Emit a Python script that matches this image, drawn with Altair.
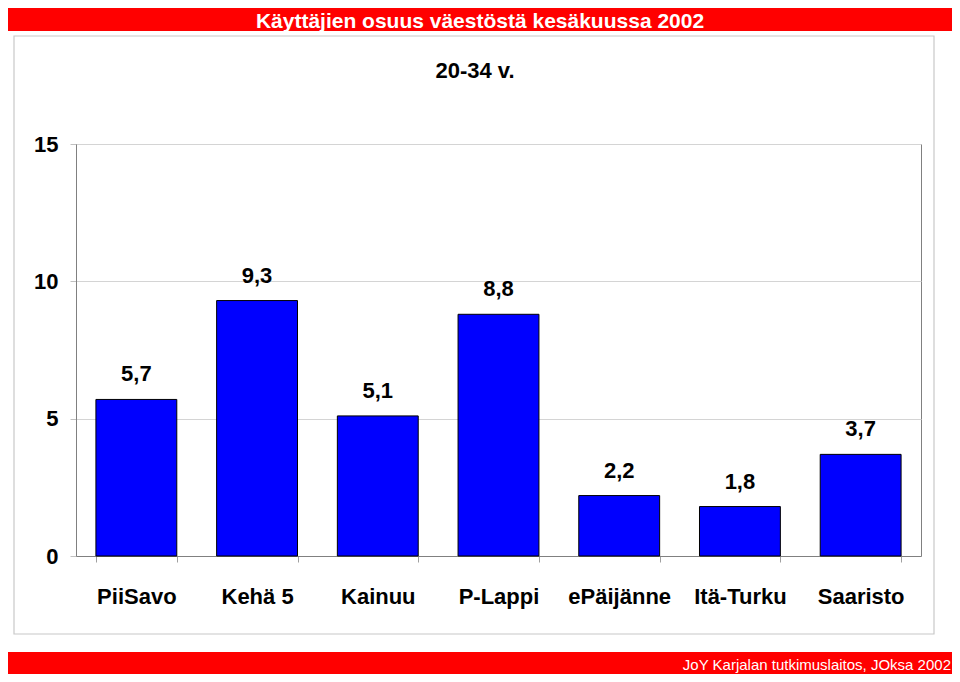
import altair as alt
import pandas as pd

categories = ["PiiSavo", "Kehä 5", "Kainuu", "P-Lappi", "ePäijänne", "Itä-Turku", "Saaristo"]
values = [5.7, 9.3, 5.1, 8.8, 2.2, 1.8, 3.7]
value_labels = ["5,7", "9,3", "5,1", "8,8", "2,2", "1,8", "3,7"]
y_ticks = [0, 5, 10, 15]
title_text = "Käyttäjien osuus väestöstä kesäkuussa 2002"
subtitle_text = "20-34 v."
footer_text = "JoY Karjalan tutkimuslaitos, JOksa 2002"

df = pd.DataFrame({"cat": categories, "val": values, "lab": value_labels})
one = pd.DataFrame({"a": [0]})

FONT = "Liberation Sans"
W, H = 845, 412

x_enc = alt.X(
    "cat:N", sort=categories, title=None,
    scale=alt.Scale(paddingInner=0.33, paddingOuter=0.165),
    axis=alt.Axis(labelAngle=0, labelFont=FONT, labelFontSize=22, labelFontWeight="bold",
                  labelColor="black", tickBand="extent", tickSize=6, tickColor="#a0a0a0",
                  domainColor="#808080", labelPadding=24, labelOverlap=False),
)
y_enc = alt.Y(
    "val:Q", title=None,
    scale=alt.Scale(domain=[0, 15], nice=False),
    axis=alt.Axis(values=y_ticks, labelFont=FONT, labelFontSize=22, labelFontWeight="bold",
                  labelColor="black", grid=True, gridColor="#d4d4d4", tickSize=6,
                  tickColor="#c0c0c0", labelPadding=12, domainColor="#808080"),
)

border = alt.Chart(one).mark_rect(fill=None, stroke="#c8c8c8", strokeWidth=1.2).encode(
    x=alt.value(-62), x2=alt.value(858), y=alt.value(-108), y2=alt.value(490))
top_banner = alt.Chart(one).mark_rect(color="#ff0000").encode(
    x=alt.value(-68), x2=alt.value(876), y=alt.value(-136), y2=alt.value(-113))
bottom_banner = alt.Chart(one).mark_rect(color="#ff0000").encode(
    x=alt.value(-68), x2=alt.value(876), y=alt.value(508), y2=alt.value(532))

bars = alt.Chart(df).mark_bar(color="#0000ff", stroke="black", strokeWidth=1).encode(x=x_enc, y=y_enc)
labels = alt.Chart(df).mark_text(dy=-25, baseline="middle", font=FONT, fontSize=22,
                                 fontWeight="bold", color="black").encode(
    x=alt.X("cat:N", sort=categories), y="val:Q", text="lab:N")

title = alt.Chart(one).mark_text(text=title_text, font=FONT, fontSize=21, fontWeight="bold",
                                 color="white", align="center", baseline="alphabetic").encode(
    x=alt.value(404), y=alt.value(-116.5))
subtitle = alt.Chart(one).mark_text(text=subtitle_text, font=FONT, fontSize=22, fontWeight="bold",
                                    color="black", align="center", baseline="middle").encode(
    x=alt.value(399), y=alt.value(-73))
footer = alt.Chart(one).mark_text(text=footer_text, font=FONT, fontSize=15, color="white",
                                  align="right", baseline="middle").encode(
    x=alt.value(875), y=alt.value(521))

chart = alt.layer(border, top_banner, bottom_banner, bars, labels, title, subtitle, footer).properties(
    width=W, height=H,
    autosize=alt.AutoSizeParams(type="none"),
    padding={"left": 68, "top": 136, "right": 31, "bottom": 118},
).configure_view(stroke="#808080", strokeWidth=1)

chart.save("out.html", embed_options={"renderer": "svg", "actions": False})
